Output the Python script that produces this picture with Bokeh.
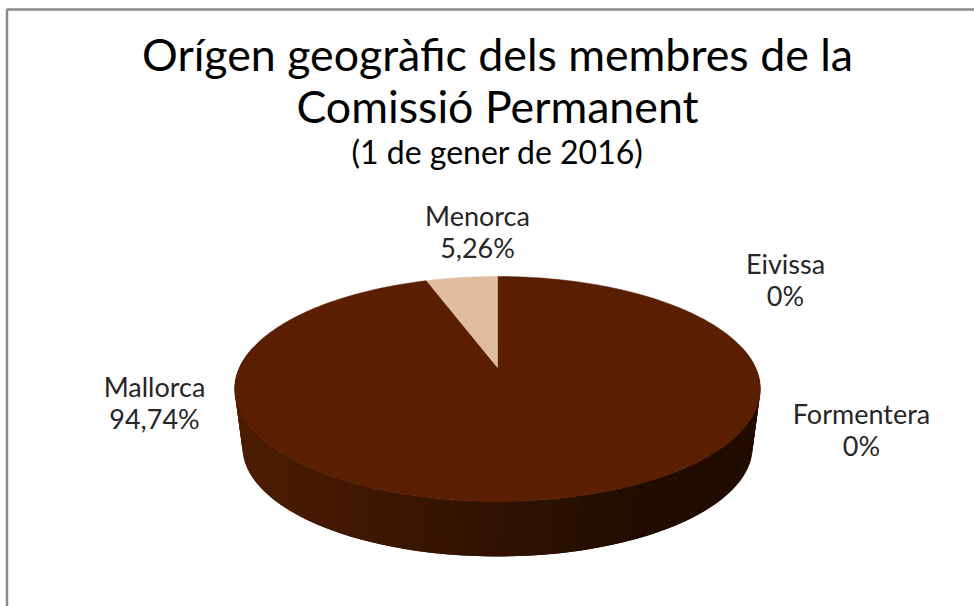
import numpy as np
from bokeh.plotting import figure
from bokeh.models import Range1d
from bokeh.core.properties import value
from bokeh.embed import file_html
from bokeh.resources import INLINE

categories = ["Mallorca", "Menorca", "Eivissa", "Formentera"]
values = [94.74, 5.26, 0.0, 0.0]
value_labels = ["94,74%", "5,26%", "0%", "0%"]
colors = ["#5a1e00", "#e0bd9f", "#8c4a1f", "#3a1400"]
title_lines = ["Orígen geogràfic dels membres de la", "Comissió Permanent", "(1 de gener de 2016)"]
title_x = [497, 497, 497]
title_y = [53, 105, 151]
title_sizes = ["44.7px", "44.7px", "32px"]
label_x = [154, 477, 785, 861]
label_y = [386, 215, 263, 413]

FONT = "Lato"
CX, CY = 497.0, 367.0          # pie apex
A, B, K = 258.0, 108.4, 0.191  # perspective ellipse
DEPTH_Y, DEPTH_S = 59.0, 0.97  # extrusion of the lower rim


def rim(theta, drop=0.0, s=1.0):
    """theta: clockwise from 12 o'clock, radians."""
    u, v = np.sin(theta), np.cos(theta)
    w = 1 + K * v
    return CX + s * A * u / w, CY + drop - s * B * v / w


p = figure(width=974, height=606, output_backend="svg", toolbar_location=None,
           x_range=Range1d(0, 974), y_range=Range1d(606, 0),
           min_border=0, min_border_left=0, min_border_right=0, min_border_top=0, min_border_bottom=0,
           outline_line_color=None, background_fill_color="white", border_fill_color="white")
p.axis.visible = False
p.grid.visible = False

# chart frame (the reference is cropped at right and bottom)
p.line([6.5, 6.5, 974], [606, 9, 9], line_color="#8a8a8a", line_width=2.5)

# side wall, shaded from left to right; each strip overlaps the next to avoid seams
wall_a = np.radians(np.linspace(79, 281, 130))
left_col = np.array([0x4c, 0x1c, 0x00])
right_col = np.array([0x22, 0x0c, 0x00])
for i in range(len(wall_a) - 1):
    a0, a1 = wall_a[i], wall_a[min(i + 2, len(wall_a) - 1)]
    x0, y0 = rim(a0)
    x1, y1 = rim(a1)
    x2, y2 = rim(a1, DEPTH_Y, DEPTH_S)
    x3, y3 = rim(a0, DEPTH_Y, DEPTH_S)
    mid = 0.5 * (x0 + x1)
    f = min(1.0, max(0.0, (mid - 240) / (640 - 240)))
    c = left_col + (right_col - left_col) * f
    col = "#%02x%02x%02x" % tuple(int(round(q)) for q in c)
    p.patch([x0, x1, x2, x3], [y0, y1, y2, y3], fill_color=col, line_color=None)

# top face, from the values
start = 0.0
total = sum(values)
for val, col in zip(values, colors):
    if val <= 0:
        continue
    end = start + 2 * np.pi * val / total
    t = np.linspace(start, end, max(3, int(val * 4)))
    xs, ys = rim(t)
    p.patch(np.r_[CX, xs], np.r_[CY, ys], fill_color=col, line_color=col, line_width=0.5)
    start = end

# title and labels
p.text(title_x[:2], title_y[:2], text=title_lines[:2], text_align="center", text_baseline="middle",
       text_font=value(FONT), text_font_size=title_sizes[0], text_color="#000000")
p.text(title_x[2:], title_y[2:], text=title_lines[2:], text_align="center", text_baseline="middle",
       text_font=value(FONT), text_font_size=title_sizes[2], text_color="#000000")
p.text(label_x, label_y, text=categories, text_align="center", text_baseline="middle",
       text_font=value(FONT), text_font_size="27px", text_color="#262626")
p.text(label_x, [y + 32 for y in label_y], text=value_labels, text_align="center", text_baseline="middle",
       text_font=value(FONT), text_font_size="27px", text_color="#262626")

open("out.html", "w").write(file_html(p, INLINE))
